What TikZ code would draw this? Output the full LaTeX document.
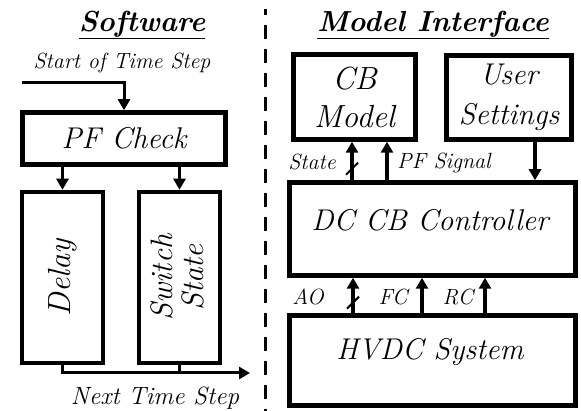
\documentclass[tikz,border=0pt]{standalone}
\usepackage{fontspec}
\usetikzlibrary{arrows.meta, decorations.markings}

\begin{document}
\begin{tikzpicture}[
        x=1pt, y=-1pt,
        >={Triangle[width=12pt,length=11pt]},
        blk/.style={draw, line width=4.5pt, inner sep=0pt},
        txt/.style={font=\fontsize{30}{38}\selectfont\itshape\addfontfeature{LetterSpace=6}, align=center, inner sep=0pt},
        lbl/.style={font=\fontsize{22}{26}\selectfont\itshape\addfontfeature{LetterSpace=6}, inner sep=0pt},
        ttl/.style={font=\fontsize{29}{32}\selectfont\bfseries\itshape\addfontfeature{LetterSpace=6}, inner sep=0pt},
        sig/.style={->, line width=3.5pt},
        bus/.style={
            sig,
            postaction={decorate},
            decoration={markings, mark=at position 0.3 with {\draw[-, line width=2pt] (-6pt,6pt) -- (6pt,-6pt);}}
        }
    ]
    \useasboundingbox (0,0) rectangle (581,411);

    % Titles and divider
    \node[ttl] (swtitle) at (142,25) {\underline{Software}};
    \node[ttl] (mititle) at (433,25) {\underline{Model Interface}};
    \draw[line width=3pt, dash pattern=on 14pt off 10pt, dash phase=8pt] (265.5,9) -- (265.5,411);

    % Software side
    \node[blk, txt, minimum width=203pt, minimum height=52pt] (pf) at (124,138.5) {PF Check};
    \node[blk, minimum width=81pt, minimum height=171pt] (delay) at (62.5,277.5) {};
    \node[txt, font=\fontsize{32}{31}\selectfont\itshape\addfontfeature{LetterSpace=6}, rotate=90] (delaytxt) at (delay) {Delay};
    \node[blk, minimum width=81pt, minimum height=171pt] (switch) at (179.5,277.5) {};
    \node[txt, font=\fontsize{31}{31}\selectfont\itshape\addfontfeature{LetterSpace=6}, rotate=90] (switchtxt) at (177.5,277.5) {Switch\\State};

    \coordinate (start) at (22,83);
    \coordinate (next) at (250,373);
    \node[lbl] (startlbl) at (122,63) {Start of Time Step};
    \node[lbl, font=\fontsize{25}{28}\selectfont\itshape\addfontfeature{LetterSpace=6}] (nextlbl) at (155,398) {Next Time Step};

    \draw[sig, line width=3pt] (start) -| (pf.north);
    \draw[sig] (pf.south -| delay.north) -- (delay.north);
    \draw[sig] (pf.south -| switch.north) -- (switch.north);
    \draw[sig, line width=3pt] (delay.south) |- (next);
    \draw[line width=3pt] (switch.south) -- (switch.south |- next);

    % Model interface side
    \node[blk, txt, font=\fontsize{32}{38}\selectfont\itshape\addfontfeature{LetterSpace=6}, minimum width=122pt, minimum height=85pt] (cbm) at (354.5,97) {CB\\Model};
    \node[blk, txt, font=\fontsize{30}{40}\selectfont\itshape\addfontfeature{LetterSpace=6}, minimum width=125pt, minimum height=84pt] (user) at (509,97.5) {User\\Settings};
    \node[blk, minimum width=286pt, minimum height=93pt] (ctrl) at (432.5,229) {};
    \node[txt] (ctrltxt) at (430,220) {DC CB Controller};
    \node[blk, minimum width=286pt, minimum height=90pt] (hvdc) at (432.5,360.5) {};
    \node[txt] (hvdctxt) at (430,352) {HVDC System};

    % taps
    \coordinate (tstate) at (352,0);
    \coordinate (tpf) at (387,0);
    \coordinate (tuser) at (535,0);
    \coordinate (tao) at (353,0);
    \coordinate (tfc) at (422,0);
    \coordinate (trc) at (485,0);

    \draw[bus] (ctrl.north -| tstate) -- (cbm.south -| tstate);
    \draw[sig] (ctrl.north -| tpf) -- (cbm.south -| tpf);
    \draw[sig] (user.south -| tuser) -- (ctrl.north -| tuser);
    \draw[bus] (hvdc.north -| tao) -- (ctrl.south -| tao);
    \draw[sig] (hvdc.north -| tfc) -- (ctrl.south -| tfc);
    \draw[sig] (hvdc.north -| trc) -- (ctrl.south -| trc);

    \node[lbl] (statelbl) at (312,162) {State};
    \node[lbl, anchor=west] (pflbl) at (397,163) {PF Signal};
    \node[lbl] (aolbl) at (308,297) {AO};
    \node[lbl] (fclbl) at (393,297) {FC};
    \node[lbl] (rclbl) at (458,297) {RC};

\end{tikzpicture}
\end{document}
